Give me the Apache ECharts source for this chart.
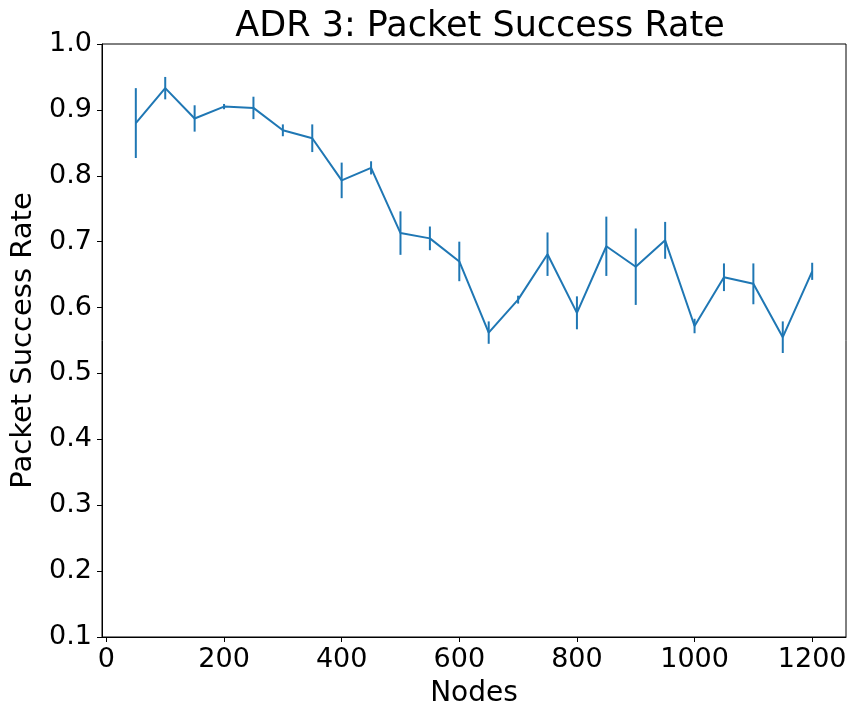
<!DOCTYPE html>
<html>
<head>
<meta charset="utf-8">
<title>ADR 3: Packet Success Rate</title>
<script src="https://cdn.jsdelivr.net/npm/echarts@6/dist/echarts.min.js"></script>
<style>
  html, body { margin: 0; padding: 0; background: #fff; }
  #chart { width: 850px; height: 705px; }
</style>
</head>
<body>
<div id="chart"></div>
<script>
// Network sizes (number of nodes)
const nodes = [50, 100, 150, 200, 250, 300, 350, 400, 450, 500, 550, 600,
               650, 700, 750, 800, 850, 900, 950, 1000, 1050, 1100, 1150, 1200];
// Mean packet success rate per network size
const successRate = [0.880, 0.933, 0.887, 0.905, 0.903, 0.869, 0.857, 0.793,
                     0.812, 0.713, 0.705, 0.670, 0.562, 0.612, 0.681, 0.592,
                     0.693, 0.662, 0.702, 0.572, 0.646, 0.636, 0.555, 0.655];
// Symmetric error (half-length of each error bar)
const errors = [0.053, 0.017, 0.020, 0.004, 0.017, 0.009, 0.021, 0.027,
                0.010, 0.033, 0.018, 0.030, 0.017, 0.006, 0.033, 0.025,
                0.045, 0.058, 0.028, 0.011, 0.021, 0.031, 0.024, 0.013];

const LINE_COLOR = '#1f77b4';
const FONT = 'DejaVu Sans';

const lineData = nodes.map((n, i) => [n, successRate[i]]);
const errData = nodes.map((n, i) => [n, successRate[i] - errors[i], successRate[i] + errors[i]]);

const chart = echarts.init(document.getElementById('chart'), null, { renderer: 'canvas' });

chart.setOption({
  backgroundColor: '#ffffff',
  animation: false,
  title: {
    text: 'ADR 3: Packet Success Rate',
    left: 475,
    textAlign: 'center',
    top: 4,
    textStyle: { fontFamily: FONT, fontSize: 35, fontWeight: 'normal', color: '#000' }
  },
  grid: {
    left: 102, right: 4, top: 44, bottom: 68,
    outerBoundsMode: 'none',
    show: true, borderColor: '#000', borderWidth: 1
  },
  xAxis: {
    type: 'value',
    min: -7.5,
    max: 1257.5,
    splitNumber: 6,
    name: 'Nodes',
    nameLocation: 'middle',
    nameGap: 43,
    nameTextStyle: { fontFamily: FONT, fontSize: 28, color: '#000' },
    axisLine: { show: true, onZero: false, lineStyle: { color: '#000', width: 1 } },
    axisTick: { show: true, inside: false, length: 5, lineStyle: { color: '#000', width: 1 } },
    axisLabel: {
      show: true, showMinLabel: false, showMaxLabel: false, margin: 9,
      fontFamily: FONT, fontSize: 27, color: '#000',
      formatter: v => String(v)
    },
    splitLine: { show: false }
  },
  yAxis: {
    type: 'value',
    min: 0.1,
    max: 1.0,
    interval: 0.1,
    name: 'Packet Success Rate',
    nameLocation: 'middle',
    nameGap: 64,
    nameTextStyle: { fontFamily: FONT, fontSize: 29, color: '#000' },
    axisLine: { show: true, onZero: false, lineStyle: { color: '#000', width: 1 } },
    axisTick: { show: true, inside: false, length: 5, lineStyle: { color: '#000', width: 1 } },
    axisLabel: {
      margin: 10, fontFamily: FONT, fontSize: 27, color: '#000',
      formatter: v => v.toFixed(1)
    },
    splitLine: { show: false }
  },
  series: [
    {
      type: 'line',
      data: lineData,
      symbol: 'none',
      lineStyle: { color: LINE_COLOR, width: 2 },
      z: 3
    },
    {
      type: 'custom',
      data: errData,
      encode: { x: 0, y: [1, 2] },
      renderItem: function (params, api) {
        const x = api.value(0);
        const lo = api.coord([x, api.value(1)]);
        const hi = api.coord([x, api.value(2)]);
        return {
          type: 'line',
          shape: { x1: lo[0], y1: lo[1], x2: hi[0], y2: hi[1] },
          style: { stroke: LINE_COLOR, lineWidth: 2 }
        };
      },
      z: 4
    }
  ]
});
</script>
</body>
</html>
